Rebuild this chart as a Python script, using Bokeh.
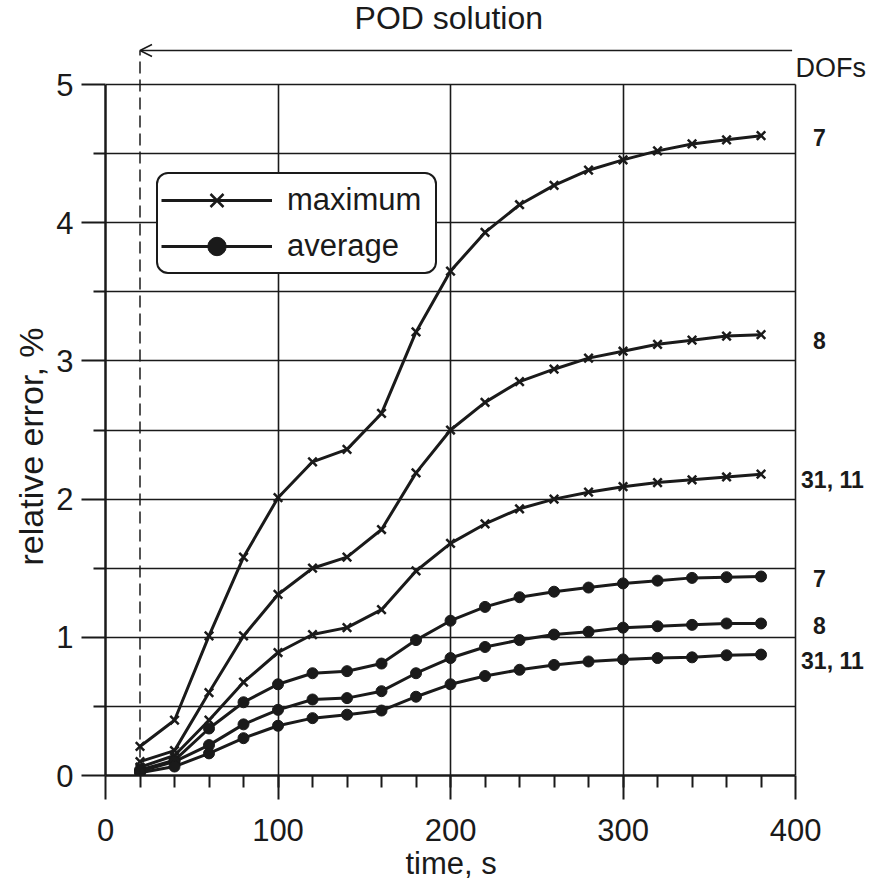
from bokeh.plotting import figure
from bokeh.models import (Range1d, FixedTicker, Legend, LegendItem, Arrow, OpenHead,
                          Label, LabelSet, ColumnDataSource, Title)
from bokeh.core.properties import value
from bokeh.embed import file_html
from bokeh.resources import INLINE

# ---------------- data ----------------
time_s = [20, 40, 60, 80, 100, 120, 140, 160, 180, 200, 220, 240, 260, 280, 300, 320, 340, 360, 380]

max_dof7 = [0.21, 0.40, 1.01, 1.58, 2.01, 2.27, 2.36, 2.62, 3.21, 3.65, 3.93, 4.13, 4.27, 4.38, 4.455, 4.52, 4.57, 4.60, 4.63]
max_dof8 = [0.10, 0.18, 0.60, 1.01, 1.31, 1.50, 1.58, 1.78, 2.19, 2.50, 2.70, 2.85, 2.94, 3.02, 3.07, 3.12, 3.15, 3.18, 3.19]
max_dof31_11 = [0.06, 0.145, 0.40, 0.675, 0.89, 1.02, 1.07, 1.20, 1.48, 1.68, 1.82, 1.93, 2.00, 2.05, 2.09, 2.12, 2.14, 2.16, 2.18]

avg_dof7 = [0.04, 0.11, 0.34, 0.53, 0.66, 0.74, 0.755, 0.81, 0.98, 1.12, 1.22, 1.29, 1.33, 1.36, 1.39, 1.41, 1.43, 1.435, 1.44]
avg_dof8 = [0.03, 0.10, 0.22, 0.37, 0.475, 0.55, 0.56, 0.61, 0.74, 0.85, 0.93, 0.98, 1.02, 1.04, 1.07, 1.08, 1.09, 1.10, 1.10]
avg_dof31_11 = [0.02, 0.065, 0.16, 0.27, 0.36, 0.415, 0.44, 0.47, 0.57, 0.66, 0.72, 0.765, 0.80, 0.825, 0.84, 0.85, 0.855, 0.87, 0.875]

dof_labels = ["7", "8", "31, 11", "7", "8", "31, 11"]
x_ticks = [0, 100, 200, 300, 400]
y_ticks = [0, 1, 2, 3, 4, 5]

# ---------------- style ----------------
INK = "#1a1a1a"
FONT = "Liberation Sans"
X_MAX, Y_MAX = 400, 5          # plotted data area
X_VIEW, Y_VIEW = 444.6, 5.579  # visible area incl. annotation margin

p = figure(frame_width=767, frame_height=771,
           x_range=Range1d(0, X_VIEW), y_range=Range1d(0, Y_VIEW),
           min_border_left=105, min_border_right=2, min_border_top=4, min_border_bottom=100,
           output_backend="svg", toolbar_location=None,
           background_fill_color="white", border_fill_color="white")

p.outline_line_color = None

# axes
for ax in (p.xaxis[0], p.yaxis[0]):
    ax.axis_line_color = INK
    ax.axis_line_width = 2.5
    ax.major_tick_line_color = INK
    ax.major_tick_line_width = 2
    ax.minor_tick_line_color = INK
    ax.minor_tick_line_width = 2
    ax.major_tick_in = 0
    ax.major_tick_out = 24
    ax.minor_tick_in = 0
    ax.minor_tick_out = 12
    ax.major_label_text_font = FONT
    ax.major_label_text_font_size = "31px"
    ax.major_label_text_color = INK

p.xaxis.bounds = (0, X_MAX)
p.yaxis.bounds = (0, Y_MAX)
p.xaxis.ticker = FixedTicker(ticks=x_ticks, minor_ticks=list(range(20, 400, 20)))
p.yaxis.ticker = FixedTicker(ticks=y_ticks, minor_ticks=[0.5, 1.5, 2.5, 3.5, 4.5])
p.xaxis.major_label_standoff = 19
p.yaxis.major_label_standoff = 8

# axis titles (side titles, positioned along the data area)
p.add_layout(Title(text="relative error, %", align="left", offset=210, standoff=8,
                   text_font=FONT, text_font_size="34px", text_font_style="normal",
                   text_color=INK), "left")
p.add_layout(Title(text="time, s", align="left", offset=300, standoff=0,
                   text_font=FONT, text_font_size="31px", text_font_style="normal",
                   text_color=INK), "below")

# grids
p.xgrid.ticker = FixedTicker(ticks=[100, 200, 300, 400])
p.ygrid.ticker = FixedTicker(ticks=[0.5, 1, 1.5, 2, 2.5, 3, 3.5, 4, 4.5, 5])
p.xgrid.cross_bounds = (0, Y_MAX)
p.ygrid.cross_bounds = (0, X_MAX)
for g in (p.xgrid[0], p.ygrid[0]):
    g.grid_line_color = INK
    g.grid_line_width = 1.6
    g.grid_line_alpha = 1.0

# series
max_r, avg_r = [], []
for ys in (max_dof7, max_dof8, max_dof31_11):
    l = p.line(time_s, ys, line_color=INK, line_width=3)
    s = p.scatter(time_s, ys, marker="x", size=12, line_color=INK, line_width=2.5)
    max_r.append((l, s))
for ys in (avg_dof7, avg_dof8, avg_dof31_11):
    l = p.line(time_s, ys, line_color=INK, line_width=3)
    s = p.scatter(time_s, ys, marker="circle", size=11, line_color=INK, fill_color=INK)
    avg_r.append((l, s))

legend = Legend(items=[LegendItem(label="maximum", renderers=list(max_r[0])),
                       LegendItem(label="average", renderers=list(avg_r[0]))],
                location=(51, 501), margin=0, padding=3, spacing=0,
                glyph_width=111, glyph_height=46, label_standoff=15, label_width=145,
                label_text_font=FONT, label_text_font_size="31px", label_text_color=INK,
                border_line_color=INK, border_line_width=2, border_line_alpha=1.0,
                border_radius=12,
                background_fill_color="white", background_fill_alpha=1.0)
p.add_layout(legend)

# POD solution arrow and dashed start marker
arrow_y = 5.246
p.add_layout(Arrow(x_start=398, y_start=arrow_y, x_end=time_s[0], y_end=arrow_y,
                   line_color=INK, line_width=1.5,
                   end=OpenHead(size=12, line_color=INK, line_width=1.5)))
p.add_layout(Arrow(x_start=time_s[0], y_start=0, x_end=time_s[0], y_end=arrow_y,
                   line_color=INK, line_width=1.5, line_dash="12 6", end=None))

p.add_layout(Label(x=199, y=5.48, text="POD solution", text_align="center", text_baseline="middle",
                   text_font=FONT, text_font_size="32px", text_color=INK))
p.add_layout(Label(x=400, y=5.12, text="DOFs", text_align="left", text_baseline="middle",
                   text_font=FONT, text_font_size="27px", text_color=INK))

ends = [max_dof7[-1], max_dof8[-1], max_dof31_11[-1], avg_dof7[-1], avg_dof8[-1], avg_dof31_11[-1]]
lab_src = ColumnDataSource(dict(x=[time_s[-1]] * 6, y=ends, text=dof_labels,
                                xo=[52, 52, 40, 52, 52, 40], yo=[-2, -6, -6, -2, -2, -6]))
p.add_layout(LabelSet(x="x", y="y", text="text", x_offset="xo", y_offset="yo", source=lab_src,
                      text_align="left", text_baseline="middle", text_font=value(FONT),
                      text_font_size=value("23px"), text_font_style=value("bold"),
                      text_color=INK))

open("out.html", "w").write(file_html(p, INLINE))
